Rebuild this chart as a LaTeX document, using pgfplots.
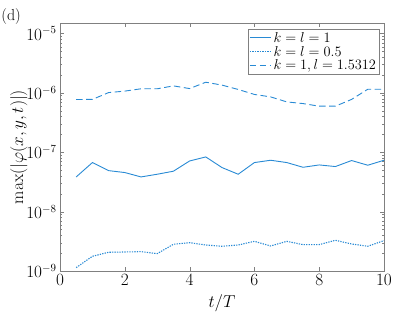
\documentclass[border=0pt]{standalone}
\usepackage{pgfplots}
\pgfplotsset{compat=1.18}
\definecolor{mblue}{RGB}{40,138,212}
\begin{document}
\begin{tikzpicture}
\begin{axis}[
 at={(60bp,43bp)}, anchor=south west,
 scale only axis, width=324bp, height=248bp,
 xmin=0, xmax=10, ymode=log, ymin=1e-9, ymax=1.5e-5,
 xtick={0,2,...,10},
 axis line style={black!50}, tick style={black!50},
 major tick length=4bp, minor tick length=2.2bp,
 every tick label/.append style={font=\fontsize{16}{18}\selectfont},
 label style={font=\fontsize{17.5}{21}\selectfont},
 xlabel={$t/T$}, ylabel={$\max(|\varphi(x,y,t)|)$},
 xlabel style={at={(axis description cs:0.5,-0.128)},anchor=center},
 ylabel style={at={(axis description cs:-0.127,0.5)},anchor=center},
 clip=false,
 legend style={at={(0.985,0.976)}, anchor=north east, draw=black!50,
   font=\fontsize{13.5}{16}\selectfont, cells={anchor=west}, row sep=-1.5pt, inner sep=1pt},
 legend image code/.code={\draw[#1] (0bp,0bp) -- (21bp,0bp);},
 every axis plot/.append style={line width=0.9pt, color=mblue},
]
\addplot[solid] coordinates {
(0.5,3.84e-8) (1.0,6.7e-8) (1.5,4.9e-8) (2.0,4.55e-8) (2.5,3.84e-8) (3.0,4.26e-8)
(3.5,4.79e-8) (4.0,7.13e-8) (4.5,8.33e-8) (5.0,5.52e-8) (5.5,4.26e-8) (6.0,6.7e-8)
(6.5,7.33e-8) (7.0,6.7e-8) (7.5,5.58e-8) (8.0,6.11e-8) (8.5,5.74e-8) (9.0,7.25e-8)
(9.5,6.04e-8) (10.0,7.33e-8)};
\addlegendentry{$k=l=1$}
\addplot[line width=1.1pt, dash pattern=on 1.3pt off 1.2pt] coordinates {
(0.5,1.14e-9) (1.0,1.77e-9) (1.5,2.07e-9) (2.0,2.09e-9) (2.5,2.12e-9) (3.0,1.96e-9)
(3.5,2.82e-9) (4.0,3.0e-9) (4.5,2.74e-9) (5.0,2.61e-9) (5.5,2.74e-9) (6.0,3.16e-9)
(6.5,2.64e-9) (7.0,3.16e-9) (7.5,2.78e-9) (8.0,2.78e-9) (8.5,3.29e-9) (9.0,2.85e-9)
(9.5,2.61e-9) (10.0,3.25e-9)};
\addlegendentry{$k=l=0.5$}
\addplot[dash pattern=on 6.5pt off 3.5pt] coordinates {
(0.5,7.73e-7) (1.0,7.76e-7) (1.5,1.01e-6) (2.0,1.07e-6) (2.5,1.17e-6) (3.0,1.17e-6)
(3.5,1.31e-6) (4.0,1.18e-6) (4.5,1.51e-6) (5.0,1.35e-6) (5.5,1.14e-6) (6.0,9.4e-7)
(6.5,8.55e-7) (7.0,7.04e-7) (7.5,6.6e-7) (8.0,5.96e-7) (8.5,5.96e-7) (9.0,7.76e-7)
(9.5,1.15e-6) (10.0,1.15e-6)};
\addlegendentry{$k=1,l=1.5312$}
\node[font=\fontsize{16}{18}\selectfont] at (rel axis cs:-0.151,1.028) {(d)};
\end{axis}
\pgfresetboundingbox
\path[use as bounding box] (0,0) rectangle (419bp,314bp);
\end{tikzpicture}
\end{document}
